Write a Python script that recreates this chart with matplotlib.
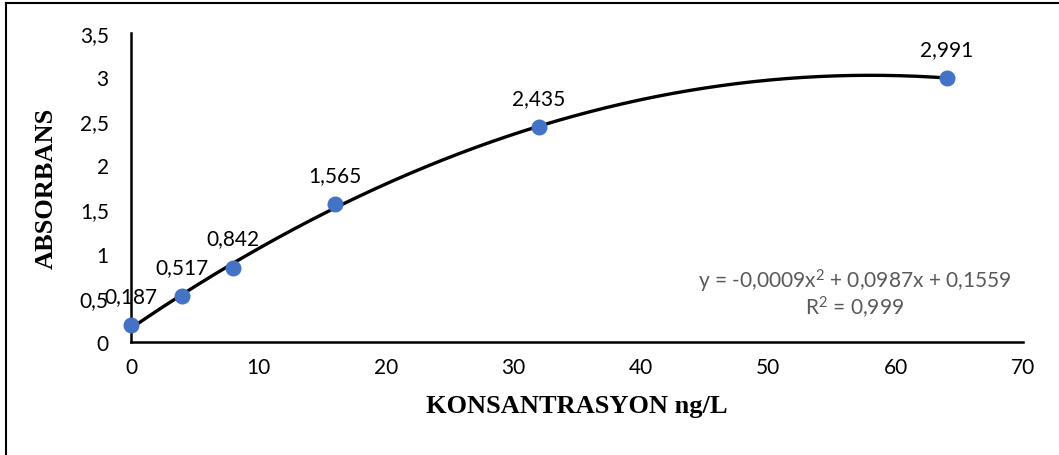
import matplotlib.pyplot as plt
import numpy as np
from matplotlib.lines import Line2D

# calibration data
konsantrasyon = [0, 4, 8, 16, 32, 64]
absorbans = [0.187, 0.517, 0.842, 1.565, 2.435, 2.991]
nokta_etiket = ['0,187', '0,517', '0,842', '1,565', '2,435', '2,991']
x_ticks = [0, 10, 20, 30, 40, 50, 60, 70]
y_ticks = [0, 0.5, 1, 1.5, 2, 2.5, 3, 3.5]
y_ticklabels = ['0', '0,5', '1', '1,5', '2', '2,5', '3', '3,5']
denklem = 'y = -0,0009x$^2$ + 0,0987x + 0,1559'
r_kare = 'R$^2$ = 0,999'

plt.rcParams['font.family'] = ['Lato', 'DejaVu Sans']
plt.rcParams['mathtext.default'] = 'regular'

fig = plt.figure(figsize=(10.59, 4.56), dpi=100)
ax = fig.add_axes([0.1237, 0.2478, 0.8423, 0.6776])

# second order trendline
katsayi = np.polyfit(konsantrasyon, absorbans, 2)
xx = np.linspace(0, 64, 300)
ax.plot(xx, np.polyval(katsayi, xx), color='black', lw=2.4, zorder=2, clip_on=False)

ax.plot(konsantrasyon, absorbans, 'o', color='#4472C4', ms=10.5, zorder=3, clip_on=False)
for xv, yv, lab in zip(konsantrasyon, absorbans, nokta_etiket):
    ax.annotate(lab, (xv, yv), xytext=(0, 21), textcoords='offset points',
                ha='center', va='center', fontsize=15, color='black', zorder=4)

ax.text(56.8, 0.70, denklem, ha='center', va='center', fontsize=15, color='#595959')
ax.text(56.8, 0.40, r_kare, ha='center', va='center', fontsize=15, color='#595959')

ax.set_xlim(0, 70)
ax.set_ylim(0, 3.5)
ax.set_xticks(x_ticks)
ax.set_yticks(y_ticks)
ax.set_yticklabels(y_ticklabels)
ax.tick_params(length=0, labelsize=15, colors='black')
ax.tick_params(axis='y', pad=16)
ax.tick_params(axis='x', pad=11)
for s in ['top', 'right']:
    ax.spines[s].set_visible(False)
for s in ['left', 'bottom']:
    ax.spines[s].set_linewidth(1.8)

ax.set_xlabel('KONSANTRASYON ng/L', fontsize=19, fontweight='bold',
              family='Liberation Serif', labelpad=12)
ax.set_ylabel('ABSORBANS', fontsize=19, fontweight='bold',
              family='Liberation Serif', labelpad=16)

# frame lines on left and top
fig.add_artist(Line2D([6 / 1059, 6 / 1059], [0, 1 - 4 / 456], transform=fig.transFigure,
                      color='black', lw=1.5))
fig.add_artist(Line2D([6 / 1059, 1], [1 - 4 / 456, 1 - 4 / 456], transform=fig.transFigure,
                      color='black', lw=1.5))

fig.savefig('out.png', dpi=100)
